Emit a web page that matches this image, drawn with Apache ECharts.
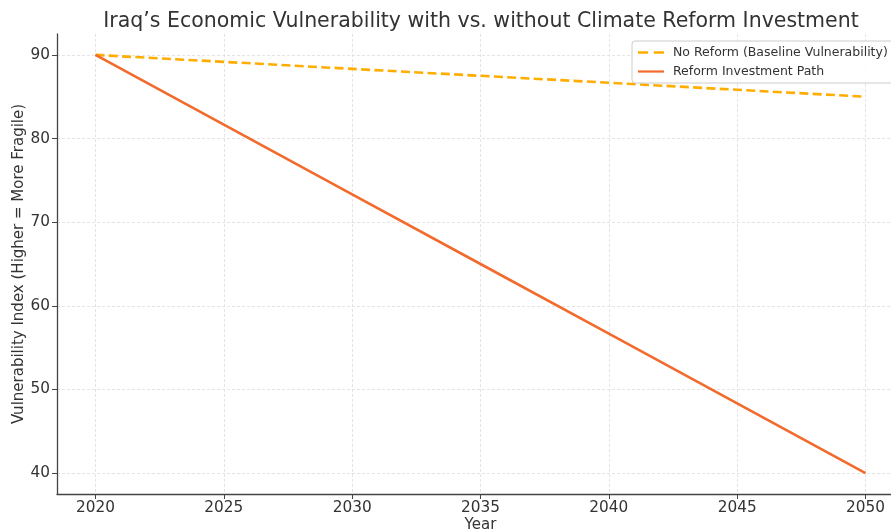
<!DOCTYPE html>
<html>
<head>
<meta charset="utf-8">
<script src="https://cdn.jsdelivr.net/npm/echarts@6/dist/echarts.min.js"></script>
<style>
  html, body { margin: 0; padding: 0; background: #fff; }
  #chart { width: 891px; height: 531px; }
</style>
</head>
<body>
<div id="chart"></div>
<script>
// Years along the horizontal axis
const years = [2020, 2025, 2030, 2035, 2040, 2045, 2050];
// Vulnerability index without reform (baseline)
const baselineValues = [90, 89.17, 88.33, 87.5, 86.67, 85.83, 85];
// Vulnerability index with reform investment
const reformValues = [90, 81.67, 73.33, 65, 56.67, 48.33, 40];
// Tick labels
const xTicks = [2020, 2025, 2030, 2035, 2040, 2045, 2050];
const yTicks = [40, 50, 60, 70, 80, 90];

const seriesNames = ['No Reform (Baseline Vulnerability)', 'Reform Investment Path'];

const textColor = '#333333';
const font = 'DejaVu Sans';

const chart = echarts.init(document.getElementById('chart'), null, { renderer: 'canvas' });

chart.setOption({
  backgroundColor: '#ffffff',
  animation: false,
  title: {
    text: 'Iraq\u2019s Economic Vulnerability with vs. without Climate Reform Investment',
    left: 476, top: 6, textAlign: 'center',
    textStyle: { fontFamily: font, fontSize: 20.5, fontWeight: 'normal', color: textColor }
  },
  legend: {
    left: 632, top: 41,
    orient: 'vertical',
    itemWidth: 26, itemHeight: 10, itemGap: 6,
    padding: [5, 8, 5, 6],
    borderColor: '#cccccc', borderWidth: 1, borderRadius: 3,
    backgroundColor: 'rgba(255,255,255,0.85)',
    textStyle: { fontFamily: font, fontSize: 12.5, color: textColor, padding: [0, 0, 0, 4] },
    data: [
      { name: seriesNames[0], icon: 'path://M0,4 H9 V6.2 H0 Z M14,4 H23 V6.2 H14 Z' },
      { name: seriesNames[1], icon: 'path://M0,4 H26 V6.2 H0 Z' }
    ]
  },
  grid: { left: 57, top: 34, width: 847, height: 460, containLabel: false, outerBoundsMode: 'none' },
  xAxis: {
    type: 'value', min: 2018.5, max: 2051.5,
    name: 'Year', nameLocation: 'middle', nameGap: 24, nameMoveOverlap: false,
    nameTextStyle: { fontFamily: font, fontSize: 15, color: textColor },
    axisLine: { show: true, lineStyle: { color: '#444444', width: 1.3 } },
    axisTick: { show: true, customValues: xTicks, length: 5, inside: false, lineStyle: { color: '#444444' } },
    axisLabel: {
      customValues: xTicks, fontFamily: font, fontSize: 15.3, color: textColor, margin: 7,
      formatter: v => String(v)
    },
    splitLine: { show: true, lineStyle: { color: '#dddddd', type: [3, 2], width: 0.8 } }
  },
  yAxis: {
    type: 'value', min: 37.5, max: 92.5,
    name: 'Vulnerability Index (Higher = More Fragile)', nameLocation: 'middle', nameGap: 30, nameMoveOverlap: false,
    nameTextStyle: { fontFamily: font, fontSize: 15, color: textColor },
    axisLine: { show: true, lineStyle: { color: '#444444', width: 1.3 } },
    axisTick: { show: true, customValues: yTicks, length: 5, lineStyle: { color: '#444444' } },
    axisLabel: {
      customValues: yTicks, fontFamily: font, fontSize: 15.3, color: textColor, margin: 7,
      formatter: v => String(v)
    },
    splitLine: { show: true, lineStyle: { color: '#dddddd', type: [3, 2], width: 0.8 } }
  },
  series: [
    {
      name: seriesNames[0], type: 'line', showSymbol: false,
      data: years.map((y, i) => [y, baselineValues[i]]),
      lineStyle: { color: '#FFAD00', width: 2.6, type: [9, 4.3] },
      itemStyle: { color: '#FFAD00' }, z: 3
    },
    {
      name: seriesNames[1], type: 'line', showSymbol: false,
      data: years.map((y, i) => [y, reformValues[i]]),
      lineStyle: { color: '#F26B2C', width: 2.6 },
      itemStyle: { color: '#F26B2C' }, z: 4
    }
  ]
});
</script>
</body>
</html>
